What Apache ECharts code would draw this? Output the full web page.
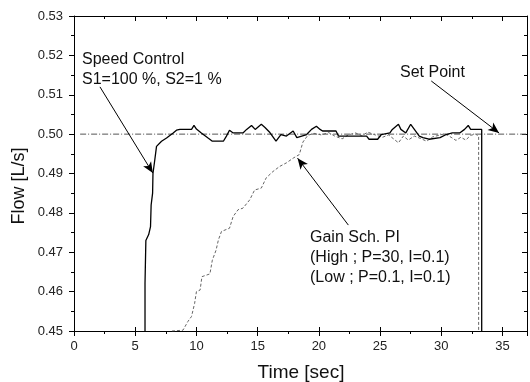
<!DOCTYPE html>
<html>
<head>
<meta charset="utf-8">
<script src="https://cdn.jsdelivr.net/npm/echarts@6/dist/echarts.min.js"></script>
<style>html,body{margin:0;padding:0;background:#fff}#c{width:530px;height:382px}</style>
</head>
<body>
<div id="c"></div>
<script>
// Tick values
var xTicks = [0, 5, 10, 15, 20, 25, 30, 35];
var yTicks = [0.45, 0.46, 0.47, 0.48, 0.49, 0.50, 0.51, 0.52, 0.53];

// Speed Control (S1=100 %, S2=1 %) - solid
var speedTime = [5.8,5.8,5.87,5.87,6.1,6.25,6.3,6.42,6.45,6.6,6.74,7.15,7.56,8.1,8.37,8.65,9.6,9.8,10.0,10.4,10.95,11.3,12.2,12.45,12.7,13.0,13.8,14.1,14.5,14.8,15.3,15.6,16.0,16.5,16.9,17.35,17.9,18.2,18.6,19.0,19.4,19.8,20.1,20.3,21.4,21.6,22.2,23.9,24.1,24.8,25.1,25.8,26.0,26.5,26.7,27.1,27.5,27.8,28.2,28.5,29.0,29.9,30.4,30.9,31.5,31.9,32.2,32.4,33.3,33.3];
var speedFlow = [0.45,0.4621,0.4621,0.473,0.4745,0.4765,0.482,0.485,0.490,0.4935,0.4969,0.4982,0.499,0.5003,0.501,0.5012,0.5012,0.5022,0.5013,0.5003,0.499,0.4982,0.4982,0.4995,0.501,0.5003,0.5003,0.5012,0.5022,0.5012,0.5025,0.5017,0.5004,0.4982,0.4999,0.4995,0.5008,0.4991,0.4995,0.4999,0.5012,0.502,0.5012,0.5008,0.5008,0.4995,0.4995,0.4995,0.4987,0.4987,0.4999,0.5003,0.5012,0.5025,0.5012,0.5003,0.5025,0.5012,0.4995,0.4991,0.4987,0.4991,0.4999,0.5003,0.5003,0.5012,0.5022,0.5012,0.5012,0.45];

// Gain Sch. PI - dashed
var gainTime = [8.0,8.9,9.3,9.6,9.85,10.0,10.3,10.45,11.1,11.3,11.6,11.8,12.05,12.7,13.0,13.4,13.8,14.35,14.75,15.3,15.7,16.25,16.8,17.35,17.9,18.4,18.7,19.1,19.6,20.2,20.8,21.3,21.9,22.4,23.0,23.5,24.0,24.6,25.2,25.7,26.1,26.5,26.9,27.3,27.8,28.3,28.8,29.3,29.8,30.3,30.8,31.2,31.6,32.0,32.4,32.8,33.05,33.05];
var gainFlow = [0.45,0.4502,0.4524,0.4537,0.457,0.460,0.4604,0.4638,0.4645,0.468,0.4705,0.4732,0.4753,0.4761,0.4791,0.4808,0.4812,0.4833,0.4858,0.4863,0.4889,0.4905,0.4918,0.4927,0.4939,0.4948,0.498,0.4997,0.5002,0.4998,0.5004,0.4995,0.4988,0.4998,0.5003,0.4996,0.5005,0.4998,0.4992,0.4998,0.4988,0.4978,0.4995,0.4985,0.4995,0.4989,0.4982,0.4993,0.4997,0.5001,0.4992,0.4984,0.4992,0.4985,0.4997,0.5,0.4995,0.45];

// Set point
var setPointTime = [0.5, 37];
var setPointFlow = [0.50, 0.50];

// Annotation arrows (data coordinates: [x, y] tail -> head)
var speedArrow = [[2.12, 0.5120], [6.44, 0.4901]];
var setArrow = [[29.18, 0.5135], [34.72, 0.5003]];
var gainArrow = [[22.41, 0.4769], [18.26, 0.4939]];

function pairs(xs, ys) { return xs.map(function (x, i) { return [x, ys[i]]; }); }

var chart = echarts.init(document.getElementById('c'), null, { renderer: 'canvas' });
var font = '"Liberation Sans", Arial, sans-serif';
var grid = { left: 74, top: 16, width: 454, height: 315 };

function xAxisBase(extra) {
  var a = {
    type: 'value', min: 0, max: 37, interval: 5, gridIndex: 0,
    axisLine: { show: true, onZero: false, lineStyle: { color: '#000', width: 1 } },
    splitLine: { show: false },
    minorTick: { show: true, splitNumber: 2, length: 3, lineStyle: { color: '#000' } },
    axisTick: { show: true, length: 5, lineStyle: { color: '#000' } },
    axisLabel: { show: false }
  };
  return Object.assign(a, extra);
}
function yAxisBase(extra) {
  var a = {
    type: 'value', min: 0.45, max: 0.53, interval: 0.01, gridIndex: 0,
    axisLine: { show: true, onZero: false, lineStyle: { color: '#000', width: 1 } },
    splitLine: { show: false },
    minorTick: { show: true, splitNumber: 2, length: 3, lineStyle: { color: '#000' } },
    axisTick: { show: true, length: 5, lineStyle: { color: '#000' } },
    axisLabel: { show: false }
  };
  return Object.assign(a, extra);
}

var arrowStyle = { color: '#000', width: 1, type: 'solid' };
function arrowLine(a) {
  return {
    silent: true, symbol: ['none', 'arrow'], symbolSize: [7, 11],
    label: { show: false }, lineStyle: arrowStyle, animation: false,
    data: [[{ coord: a[0] }, { coord: a[1] }]]
  };
}

chart.setOption({
  animation: false,
  grid: grid,
  xAxis: [
    xAxisBase({ position: 'bottom',
      axisLabel: { show: true, margin: 9, fontSize: 13, fontFamily: font, color: '#222',
        formatter: function (v) { return xTicks.indexOf(v) >= 0 ? String(v) : ''; } } }),
    xAxisBase({ position: 'bottom', axisTick: { show: true, inside: true, length: 4, lineStyle: { color: '#000' } },
      minorTick: { show: false } }),
    xAxisBase({ position: 'top', axisTick: { show: true, inside: true, length: 5, lineStyle: { color: '#000' } },
      minorTick: { show: true, splitNumber: 2, length: 3, lineStyle: { color: '#000' } } })
  ],
  yAxis: [
    yAxisBase({ position: 'left',
      axisLabel: { show: true, margin: 11, fontSize: 13, fontFamily: font, color: '#222',
        formatter: function (v) {
          for (var i = 0; i < yTicks.length; i++) if (Math.abs(yTicks[i] - v) < 1e-6) return yTicks[i].toFixed(2);
          return '';
        } } }),
    yAxisBase({ position: 'right', axisTick: { show: true, inside: true, length: 5, lineStyle: { color: '#000' } },
      minorTick: { show: true, splitNumber: 2, length: 3, lineStyle: { color: '#000' } } })
  ],
  series: [
    {
      name: 'Set Point', type: 'line', xAxisIndex: 0, yAxisIndex: 0,
      data: pairs(setPointTime, setPointFlow), showSymbol: false, symbol: 'none', silent: true,
      lineStyle: { color: '#555', width: 1, type: [6, 2, 1, 2] },
      markLine: arrowLine(setArrow)
    },
    {
      name: 'Gain Sch. PI', type: 'line', xAxisIndex: 0, yAxisIndex: 0,
      data: pairs(gainTime, gainFlow), showSymbol: false, symbol: 'none', silent: true,
      lineStyle: { color: '#666', width: 1, type: [3, 2] },
      markLine: arrowLine(gainArrow)
    },
    {
      name: 'Speed Control', type: 'line', xAxisIndex: 0, yAxisIndex: 0,
      data: pairs(speedTime, speedFlow), showSymbol: false, symbol: 'none', silent: true,
      lineStyle: { color: '#000', width: 1.3 },
      markLine: arrowLine(speedArrow)
    }
  ],
  graphic: [
    { type: 'text', left: 82, top: 50, style: { text: 'Speed Control\nS1=100 %, S2=1 %', font: '16px ' + font, fill: '#111', lineHeight: 20 } },
    { type: 'text', left: 400, top: 65, style: { text: 'Set Point', font: '16px ' + font, fill: '#111' } },
    { type: 'text', left: 310, top: 228, style: { text: 'Gain Sch. PI\n(High ; P=30, I=0.1)\n(Low ; P=0.1, I=0.1)', font: '16px ' + font, fill: '#111', lineHeight: 20 } },
    { type: 'text', x: 301, y: 373, style: { text: 'Time [sec]', font: '19px ' + font, fill: '#111', align: 'center', verticalAlign: 'middle' } },
    { type: 'text', x: 19, y: 186, rotation: Math.PI / 2, style: { text: 'Flow [L/s]', font: '18px ' + font, fill: '#111', align: 'center', verticalAlign: 'middle' } }
  ]
});
</script>
</body>
</html>
